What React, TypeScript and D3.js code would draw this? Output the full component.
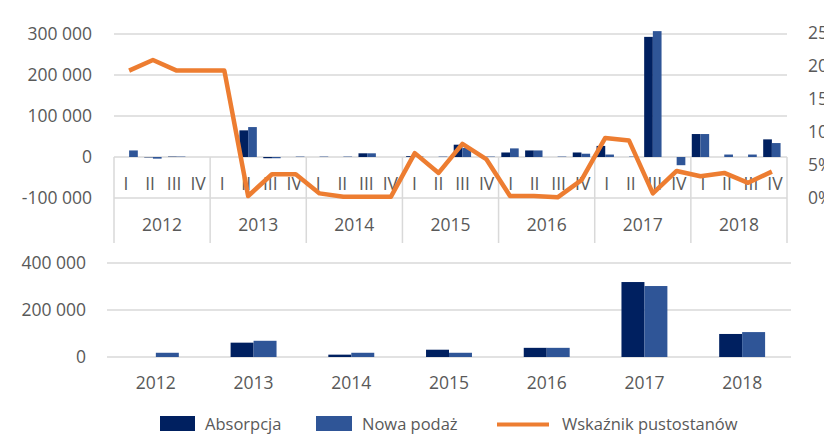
import { scaleBand, scaleLinear, line as d3Line } from 'd3';

const years = ['2012', '2013', '2014', '2015', '2016', '2017', '2018'];
const quarters = ['I', 'II', 'III', 'IV'];

// quarterly values, 2012 I ... 2018 IV
const absorpcjaQ = [
  0, -1000, 1000, 0,
  0, 65000, -3000, 0,
  0, 0, 9000, 0,
  2000, 0, 30000, 0,
  11000, 16000, 0, 11000,
  27000, 0, 293000, 0,
  56000, 0, 0, 43000,
];
const nowaPodazQ = [
  16000, -4000, 1000, 0,
  0, 73000, -3000, 1000,
  1000, 1000, 9000, 0,
  1000, 1000, 22000, 1000,
  21000, 16000, 1000, 8000,
  6000, 1000, 307000, -20000,
  56000, 6000, 6000, 34000,
];
const pustostanyQ = [
  19.3, 20.9, 19.3, 19.3,
  19.3, 0.3, 3.6, 3.6,
  0.7, 0.2, 0.2, 0.2,
  6.8, 3.8, 8.2, 5.9,
  0.3, 0.3, 0.1, 2.7,
  9.1, 8.7, 0.7, 4.1,
  3.3, 3.8, 2.3, 4.0,
];

// yearly totals
const absorpcjaY = [0, 61000, 10000, 31000, 39000, 319000, 98000];
const nowaPodazY = [18000, 69000, 18000, 18000, 39000, 302000, 106000];

const topTicks = [-100000, 0, 100000, 200000, 300000];
const rightTicks = [0, 5, 10, 15, 20, 25];
const bottomTicks = [0, 200000, 400000];

const C_ABS = '#002060';
const C_NOWA = '#2F5597';
const C_LINE = '#ED7D31';
const C_GRID = '#D9D9D9';
const C_TEXT = '#595959';
const FONT = '"Open Sans", sans-serif';

const fmt = (v: number) => {
  const s = Math.abs(v).toString().replace(/\B(?=(\d{3})+(?!\d))/g, ' ');
  return (v < 0 ? '-' : '') + s;
};

const App = () => {
  const W = 824;
  const H = 437;

  // top panel
  const left = 114;
  const right = 787;
  const keysQ = years.flatMap((y) => quarters.map((q) => `${y}-${q}`));
  const xQ = scaleBand<string>().domain(keysQ).range([left, right]).padding(0.27);
  const xSub = scaleBand<string>().domain(['a', 'n']).range([0, xQ.bandwidth()]);
  const yTop = scaleLinear().domain([-100000, 300000]).range([198, 34]);
  const yPct = scaleLinear().domain([0, 25]).range([198, 33]);
  const yearW = (right - left) / years.length;
  const qW = yearW / 4;

  const linePath = d3Line<number>()
    .x((_, i) => (xQ(keysQ[i]) as number) + xQ.bandwidth() / 2)
    .y((d) => yPct(d))(pustostanyQ);

  // bottom panel
  const xY = scaleBand<string>().domain(years).range([107, 791]).paddingInner(0.53).paddingOuter(0.265);
  const xYSub = scaleBand<string>().domain(['a', 'n']).range([0, xY.bandwidth()]);
  const yBot = scaleLinear().domain([0, 400000]).range([357, 263]);

  const barRect = (x: number, w: number, y0: number, y1: number, fill: string, key: string) => (
    <rect key={key} x={x} width={w} y={Math.min(y0, y1)} height={Math.abs(y1 - y0)} fill={fill} />
  );

  return (
    <svg
      width={W}
      height={H}
      style={{ position: 'absolute', left: 0, top: 0, background: '#fff' }}
      fontFamily={FONT}
    >
      {/* top gridlines */}
      {topTicks.map((t) => (
        <line key={t} x1={left} x2={right} y1={yTop(t)} y2={yTop(t)} stroke={C_GRID} strokeWidth={1.5} />
      ))}
      {topTicks.map((t) => (
        <text key={t} x={92} y={yTop(t)} dy="0.36em" textAnchor="end" fontSize={17.5} fill={C_TEXT}>
          {fmt(t)}
        </text>
      ))}
      {rightTicks.map((t) => (
        <text key={t} x={808} y={yPct(t)} dy="0.36em" textAnchor="start" fontSize={17.5} fill={C_TEXT}>
          {t}%
        </text>
      ))}

      {/* category axis dividers */}
      {years.map((y, i) => (
        <line key={y} x1={left + i * yearW} x2={left + i * yearW} y1={yTop(0)} y2={243} stroke={C_GRID} strokeWidth={1.5} />
      ))}
      <line x1={right} x2={right} y1={yTop(0)} y2={243} stroke={C_GRID} strokeWidth={1.5} />

      {/* quarterly bars */}
      {keysQ.map((k, i) => {
        const x = xQ(k) as number;
        return (
          <g key={k}>
            {barRect(x + (xSub('a') as number), xSub.bandwidth(), yTop(0), yTop(absorpcjaQ[i]), C_ABS, 'a')}
            {barRect(x + (xSub('n') as number), xSub.bandwidth(), yTop(0), yTop(nowaPodazQ[i]), C_NOWA, 'n')}
          </g>
        );
      })}

      {/* quarter and year labels */}
      {years.map((y, i) =>
        quarters.map((q, j) => (
          <text
            key={`${y}${q}`}
            x={left + i * yearW + (j + 0.5) * qW}
            y={184}
            dy="0.36em"
            textAnchor="middle"
            fontSize={17.5}
            fill={C_TEXT}
          >
            {q}
          </text>
        ))
      )}
      {years.map((y, i) => (
        <text key={y} x={left + (i + 0.5) * yearW} y={225} dy="0.36em" textAnchor="middle" fontSize={17.5} fill={C_TEXT}>
          {y}
        </text>
      ))}

      {/* vacancy line */}
      <path d={linePath ?? ''} fill="none" stroke={C_LINE} strokeWidth={4.5} strokeLinejoin="round" />

      {/* bottom panel */}
      {bottomTicks.map((t) => (
        <line key={t} x1={107} x2={791} y1={yBot(t)} y2={yBot(t)} stroke={C_GRID} strokeWidth={1.5} />
      ))}
      {bottomTicks.map((t) => (
        <text key={t} x={86} y={yBot(t)} dy="0.36em" textAnchor="end" fontSize={17.5} fill={C_TEXT}>
          {fmt(t)}
        </text>
      ))}
      {years.map((y, i) => {
        const x = xY(y) as number;
        return (
          <g key={y}>
            {barRect(x + (xYSub('a') as number), xYSub.bandwidth(), yBot(0), yBot(absorpcjaY[i]), C_ABS, 'a')}
            {barRect(x + (xYSub('n') as number), xYSub.bandwidth(), yBot(0), yBot(nowaPodazY[i]), C_NOWA, 'n')}
            <text x={x + xY.bandwidth() / 2} y={383} dy="0.36em" textAnchor="middle" fontSize={17.5} fill={C_TEXT}>
              {y}
            </text>
          </g>
        );
      })}

      {/* legend */}
      <rect x={160} y={416} width={35} height={15} fill={C_ABS} />
      <text x={205} y={424} dy="0.36em" fontSize={16.5} fill={C_TEXT}>Absorpcja</text>
      <rect x={316} y={416} width={36} height={15} fill={C_NOWA} />
      <text x={362} y={424} dy="0.36em" fontSize={16.5} fill={C_TEXT}>Nowa podaż</text>
      <line x1={497} x2={549} y1={424.5} y2={424.5} stroke={C_LINE} strokeWidth={4} />
      <text x={562} y={424} dy="0.36em" fontSize={16.5} fill={C_TEXT}>Wskaźnik pustostanów</text>
    </svg>
  );
};

export default App;
